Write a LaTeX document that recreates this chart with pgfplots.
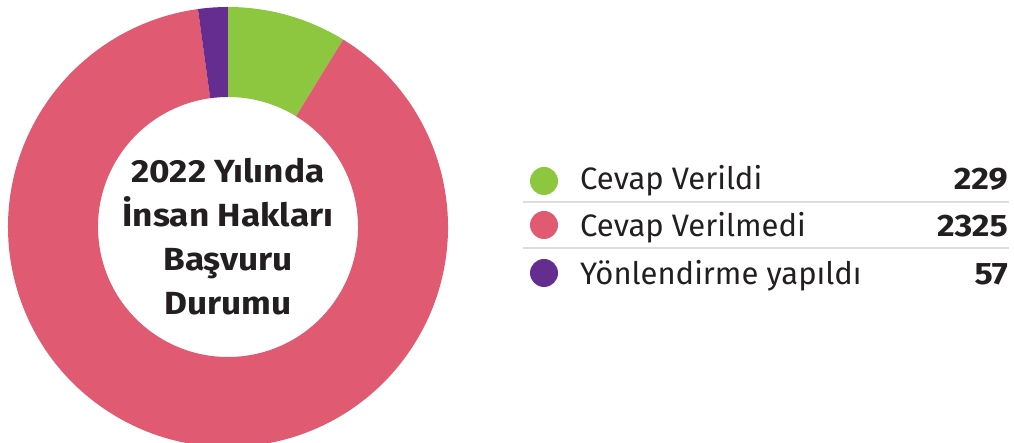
\documentclass[border=0pt]{standalone}
\usepackage{pgfplots}
\pgfplotsset{compat=1.18}
\usepackage{pgfplotstable}
\usepackage{fontspec}
\setmainfont{Fira Sans}[BoldFeatures={FakeStretch=1.1}]
\definecolor{cgreen}{HTML}{8DC63F}
\definecolor{cred}{HTML}{E05A72}
\definecolor{cpurple}{HTML}{662D91}
\definecolor{ctext}{HTML}{231F20}
\definecolor{cline}{HTML}{DDDDDD}
\pgfplotstableread{
label value
A 229
B 2325
C 57
}\datatable
\pgfplotstablegetelem{0}{value}\of\datatable \let\va\pgfplotsretval
\pgfplotstablegetelem{1}{value}\of\datatable \let\vb\pgfplotsretval
\pgfplotstablegetelem{2}{value}\of\datatable \let\vc\pgfplotsretval
\pgfmathsetmacro{\tot}{\va+\vb+\vc}
\pgfmathsetmacro{\aA}{90}
\pgfmathsetmacro{\aB}{90-360*(\va/\tot)}
\pgfmathsetmacro{\aC}{\aB-360*(\vb/\tot)}
\pgfmathsetmacro{\aD}{\aC-360*(\vc/\tot)}
\newcommand{\donutwedge}[3]{% color, start, end
  \fill[#1] ([shift={(#2:220pt)}]axis cs:228,216) arc[start angle=#2, end angle=#3, radius=220pt]
    -- ([shift={(#3:130pt)}]axis cs:228,216) arc[start angle=#3, end angle=#2, radius=130pt] -- cycle;}
\begin{document}
\begin{tikzpicture}
\path[use as bounding box] (0,0) rectangle (1014pt,443pt);
\begin{axis}[
  at={(0,0)}, anchor=south west,
  scale only axis, width=1014pt, height=443pt,
  xmin=0, xmax=1014, ymin=0, ymax=443,
  hide axis, clip=true,
]
\addplot[draw=none] coordinates {(0,0) (1014,443)};
\donutwedge{cgreen}{\aA}{\aB}
\donutwedge{cred}{\aB}{\aC}
\donutwedge{cpurple}{\aC}{\aD}
\node[align=center, text=ctext, font=\fontsize{32}{44}\selectfont\bfseries] at (axis cs:228,206)
  {2022 Yılında\\İnsan Hakları\\Başvuru\\Durumu};
% legend
\draw[cline, line width=2pt] (axis cs:523,241) -- (axis cs:1009,241);
\draw[cline, line width=2pt] (axis cs:523,195) -- (axis cs:1009,195);
\fill[cgreen] (axis cs:544,262) circle[radius=14pt];
\fill[cred] (axis cs:544,218) circle[radius=14pt];
\fill[cpurple] (axis cs:544,170) circle[radius=14pt];
\node[anchor=base west, inner sep=0pt, text=ctext, font=\fontsize{31}{37}\selectfont] at (axis cs:580,253) {Cevap Verildi};
\node[anchor=base west, inner sep=0pt, text=ctext, font=\fontsize{31}{37}\selectfont] at (axis cs:580,206) {Cevap Verilmedi};
\node[anchor=base west, inner sep=0pt, text=ctext, font=\fontsize{31}{37}\selectfont] at (axis cs:580,158) {Yönlendirme yapıldı};
\node[anchor=base east, inner sep=0pt, text=ctext, font=\fontsize{31}{37}\selectfont\bfseries] at (axis cs:1008,253) {\va};
\node[anchor=base east, inner sep=0pt, text=ctext, font=\fontsize{31}{37}\selectfont\bfseries] at (axis cs:1008,206) {\vb};
\node[anchor=base east, inner sep=0pt, text=ctext, font=\fontsize{31}{37}\selectfont\bfseries] at (axis cs:1008,158) {\vc};
\end{axis}
\end{tikzpicture}
\end{document}
